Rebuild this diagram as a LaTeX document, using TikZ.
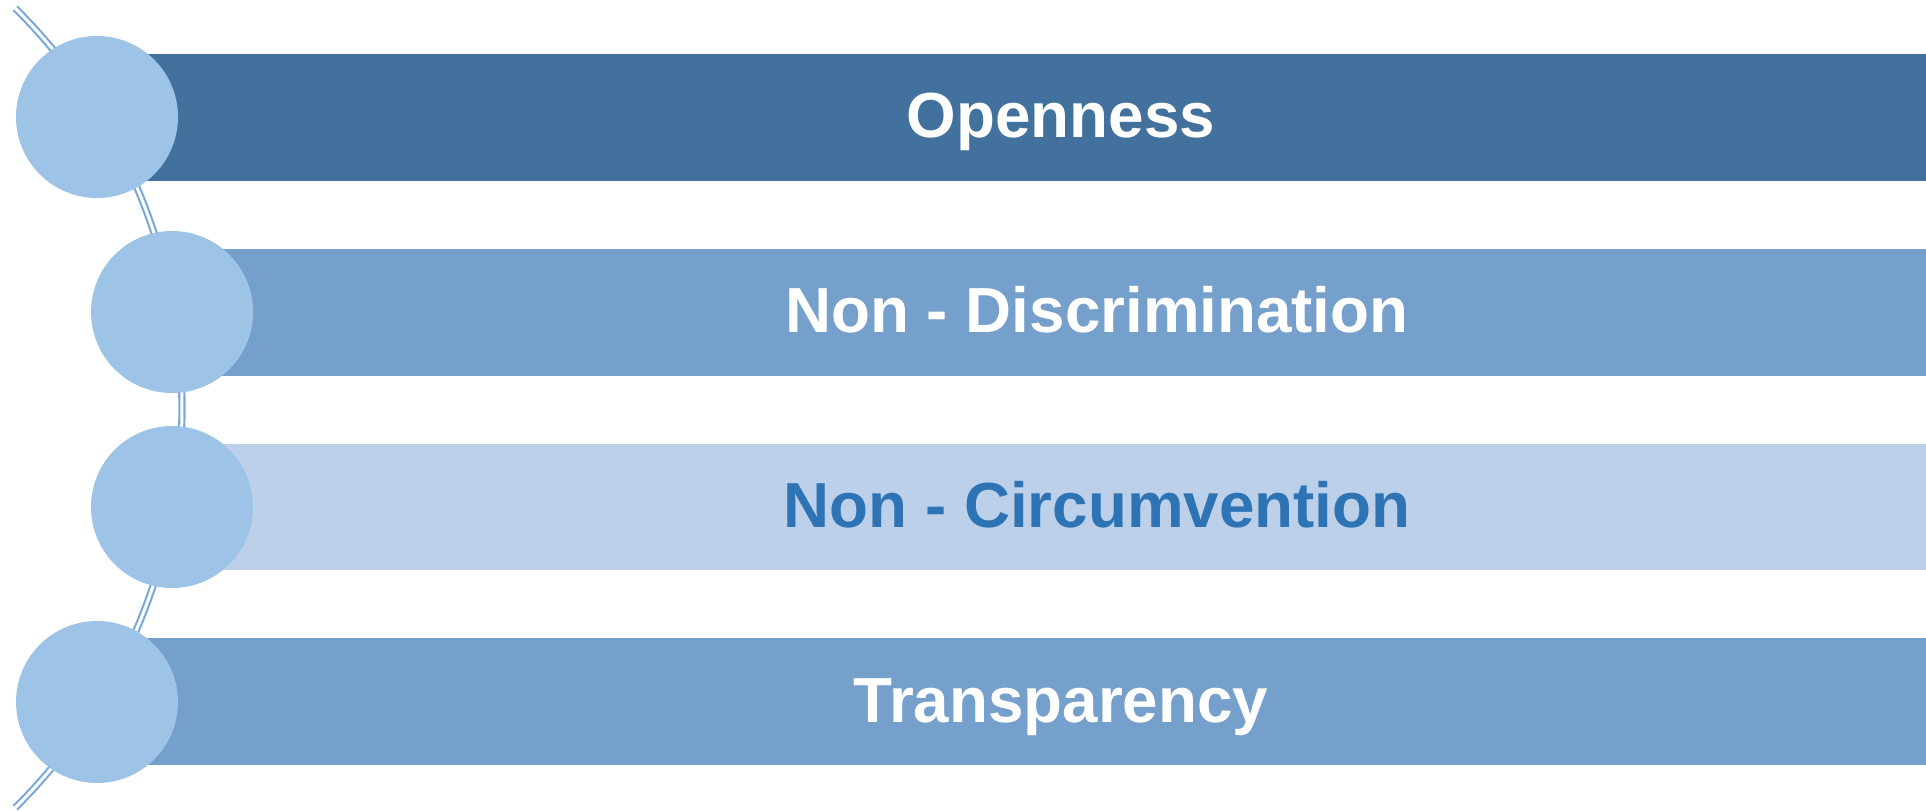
\documentclass[tikz,border=0pt]{standalone}
\usepackage{fontspec}
\setmainfont{Liberation Sans}
\usepackage{xcolor}
\definecolor{barDark}{HTML}{41719C}
\definecolor{barMid}{HTML}{76A0CC}
\definecolor{barLight}{HTML}{BCD0EA}
\definecolor{dotFill}{HTML}{9DC3E6}
\definecolor{arcLine}{HTML}{7AA7DA}
\definecolor{textBlue}{HTML}{2E74B5}

\tikzset{
  dot/.style={circle, fill=dotFill, draw=none, inner sep=0pt, minimum size=121.5pt},
  barlabel/.style={anchor=base, inner sep=0.75pt, text=white, font=\fontsize{47.8}{56}\selectfont\bfseries},
}

\begin{document}
\begin{tikzpicture}[x=0.75pt,y=0.75pt,yscale=-1,xscale=1]
\useasboundingbox (0,0) rectangle (1926,810);

%Arc [double line behind the circles]
\begin{scope}
\clip (0,0) rectangle (1926,810);
\coordinate (arcC) at (-380.5,408);
\draw [arcLine, line width=1.6pt, double=white, double distance=2.25pt] (arcC) ++(-45.3:562.5) arc [start angle=-45.3, end angle=45.3, radius=562.5] ;
\end{scope}

%Shape: Rectangle
\fill [barDark] (97,54) rectangle (1926,181) ;
%Shape: Rectangle
\fill [barMid] (172,249) rectangle (1926,376) ;
%Shape: Rectangle
\fill [barLight] (172,444) rectangle (1926,570) ;
%Shape: Rectangle
\fill [barMid] (97,638) rectangle (1926,765) ;

%Shape: Circle
\node [dot] (dot1) at (97,117) {};
\node [dot] (dot2) at (172,312) {};
\node [dot] (dot3) at (172,507) {};
\node [dot] (dot4) at (97,702) {};

% Text Node
\node [barlabel] (open) at (1061,137) {Openness};
% Text Node
\node [barlabel] (nondisc) at (1097,332) {Non - Discrimination};
% Text Node
\node [barlabel, text=textBlue] (noncirc) at (1097,527) {Non - Circumvention};
% Text Node
\node [barlabel] (transp) at (1061,722) {Transparency};

\end{tikzpicture}
\end{document}
